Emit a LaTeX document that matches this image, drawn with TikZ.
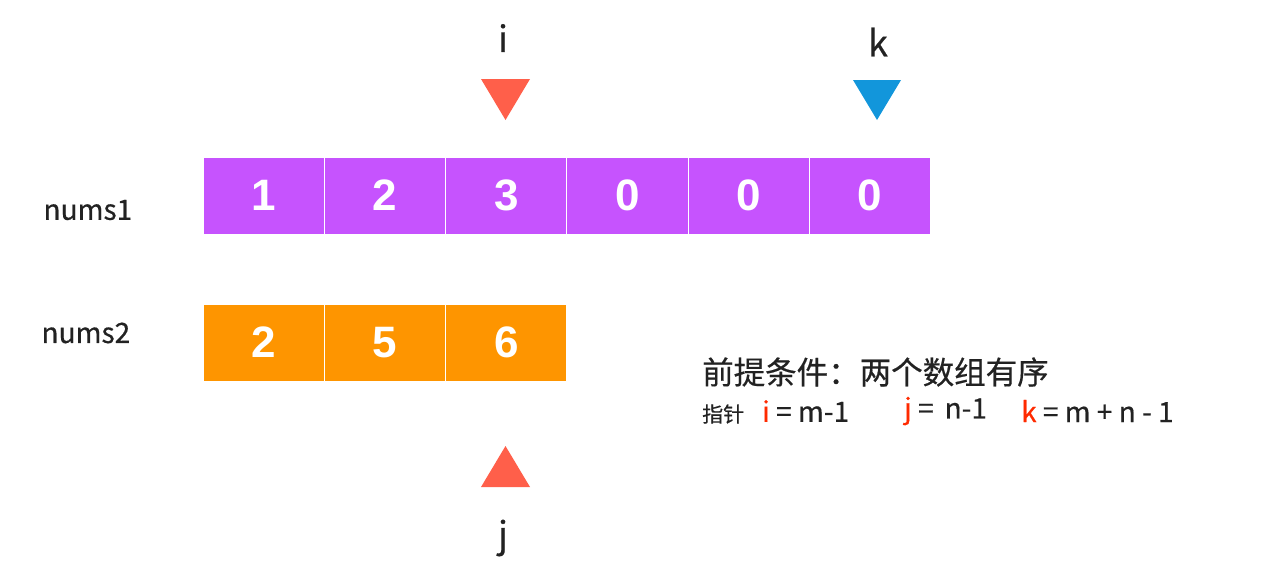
\documentclass[tikz,border=0pt]{standalone}
\usepackage{fontspec}
\setmainfont{Noto Sans CJK SC}[FakeBold=0.5]
\newfontfamily\digitfont{Liberation Sans Bold}
\definecolor{cellpurple}{HTML}{C653FE}
\definecolor{cellorange}{HTML}{FE9500}
\definecolor{tri}{HTML}{FF5F4A}
\definecolor{triblue}{HTML}{1296DB}
\definecolor{txt}{HTML}{222222}
\definecolor{redtxt}{HTML}{FF2A00}
\tikzset{
  cellbox/.style={draw=white, line width=1pt, minimum width=121.3pt, minimum height=77pt, inner sep=0pt, outer sep=0pt, text=white, font=\digitfont\fontsize{44}{44}\selectfont},
  purple cell/.style={cellbox, fill=cellpurple},
  orange cell/.style={cellbox, fill=cellorange},
  ptr/.style={text=txt, font=\fontsize{36}{36}\selectfont},
  arrname/.style={text=txt, font=\fontsize{28}{28}\selectfont},
  note/.style={anchor=west, text=txt, inner sep=0pt},
}
\begin{document}
\begin{tikzpicture}[x=1pt,y=-1pt]
\useasboundingbox (0,0) rectangle (1288,573);
% nums1
\foreach \v [count=\k from 0] in {1,2,3,0,0,0} {
  \node[purple cell] (a\k) at ({263.65+121.3*\k},195.5) {\v};
}
\foreach \v [count=\k from 0] in {2,5,6} {
  \node[orange cell] (b\k) at ({263.65+121.3*\k},342.5) {\v};
}
\node[arrname, anchor=west] (n1) at (40,210) {nums1};
\node[arrname, anchor=west] (n2) at (38,333) {nums2};
% pointers
\fill[tri] (481,79) -- (530,79) -- (505.5,120) -- cycle;
\fill[triblue] (853,80) -- (901,80) -- (877,120) -- cycle;
\fill[tri] (481,487) -- (530,487) -- (505.5,446) -- cycle;
\node[ptr] (pi) at (503,38) {i};
\node[ptr] (pk) at (878,42) {k};
\node[ptr] (pj) at (503,538) {j};
% notes
\node[note, font=\fontsize{31.5}{31.5}\selectfont] (note1) at (702,372) {前提条件：两个数组有序};
\node[note, font=\fontsize{21}{21}\selectfont] (note2) at (702,414) {指针};
\node[note, font=\fontsize{28}{28}\selectfont] (note3) at (762,411) {\textcolor{redtxt}{i} = m-1};
\node[note, font=\fontsize{28}{28}\selectfont] (note4) at (904,411) {\textcolor{redtxt}{j} =\, n-1};
\node[note, font=\fontsize{28}{28}\selectfont] (note5) at (1021,411) {\textcolor{redtxt}{k} = m + n - 1};
\end{tikzpicture}
\end{document}
